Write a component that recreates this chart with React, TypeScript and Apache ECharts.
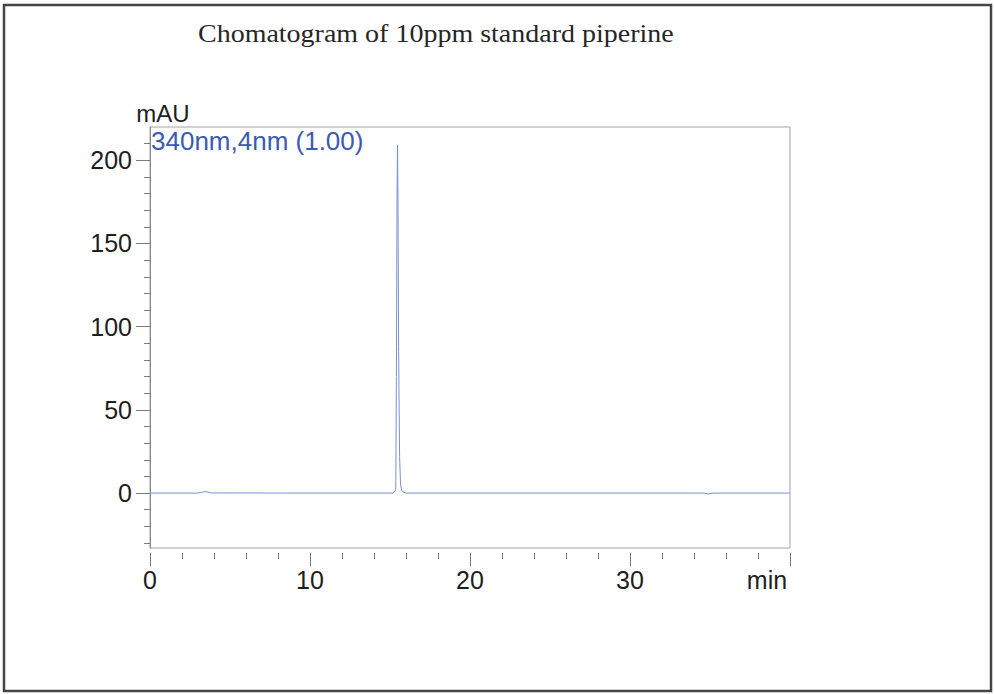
import { useEffect, useRef } from "react";
import * as echarts from "echarts";

const TITLE = "Chomatogram of 10ppm standard piperine";
const SERIES_NAME = "340nm,4nm (1.00)";
const Y_UNIT = "mAU";
const X_UNIT = "min";

const X_MIN = 0;
const X_MAX = 40;
const Y_MIN = -33;
const Y_MAX = 220;

// retention time (min) and absorbance (mAU)
const timeMin = [0, 3.0, 3.3, 3.5, 3.8, 10.0, 15.2, 15.36, 15.4, 15.44, 15.47, 15.5, 15.54, 15.6, 15.66, 15.75, 16.0, 34.6, 34.9, 35.2, 40.0];
const absorbance = [0, 0, 0.6, 0.9, 0.1, 0, 0, 2, 70, 180, 209, 175, 85, 22, 5, 1, 0, 0, -0.5, 0, 0];

const yMajorTicks = [0, 50, 100, 150, 200];
const yMinorTicks = [-30, -20, -10, 0, 10, 20, 30, 40, 50, 60, 70, 80, 90, 100, 110, 120, 130, 140, 150, 160, 170, 180, 190, 200, 210];
const xMajorTicks = [0, 10, 20, 30, 40];
const xMinorTicks = [0, 2, 4, 6, 8, 10, 12, 14, 16, 18, 20, 22, 24, 26, 28, 30, 32, 34, 36, 38, 40];

const SANS = "'Liberation Sans', Arial, sans-serif";
const SERIF = "'Liberation Serif', 'Times New Roman', serif";
const TICK_COLOR = "#7a7a7a";
const LABEL_COLOR = "#1e1e1e";

export default function App() {
  const ref = useRef<HTMLDivElement>(null);
  useEffect(() => {
    if (!ref.current) return;
    const chart = echarts.init(ref.current, undefined, { renderer: "svg" });
    const labelBase = { color: LABEL_COLOR, fontSize: 25, fontFamily: SANS };
    chart.setOption({
      animation: false,
      backgroundColor: "#ffffff",
      graphic: [
        {
          type: "rect",
          silent: true,
          shape: { x: 4, y: 5, width: 987, height: 686 },
          style: { fill: "none", stroke: "#454545", lineWidth: 2.5 },
        },
        {
          type: "text",
          silent: true,
          x: 198,
          y: 34,
          scaleX: 1.12,
          style: {
            text: TITLE,
            fontSize: 25,
            fontFamily: SERIF,
            fill: "#262626",
            align: "left",
            verticalAlign: "middle",
            textAlign: "left",
            textVerticalAlign: "middle",
          },
        },
      ],
      legend: {
        show: true,
        data: [{ name: SERIES_NAME, icon: "none" }],
        left: 146,
        top: 128,
        padding: 0,
        itemWidth: 0,
        itemHeight: 26,
        itemGap: 0,
        selectedMode: false,
        textStyle: { color: "#3a5bb2", fontSize: 26, fontFamily: SANS },
      },
      grid: {
        left: 150,
        top: 127,
        right: 204,
        bottom: 146,
        show: true,
        borderColor: "#a2a2a2",
        borderWidth: 1,
        backgroundColor: "transparent",
      },
      xAxis: [
        {
          type: "value",
          position: "bottom",
          min: X_MIN,
          max: X_MAX,
          offset: 5,
          axisLine: { show: false, onZero: false },
          axisTick: { show: true, customValues: xMajorTicks, length: 13, lineStyle: { color: TICK_COLOR } },
          axisLabel: {
            ...labelBase,
            customValues: xMajorTicks,
            margin: 14,
            formatter: (v: number) => (v === X_MAX ? `{u|${X_UNIT}}` : String(v)),
            rich: { u: { fontSize: 25, fontFamily: SANS, color: LABEL_COLOR, padding: [0, 46, 0, 0] } },
          },
          splitLine: { show: false },
        },
        {
          type: "value",
          position: "bottom",
          min: X_MIN,
          max: X_MAX,
          offset: 5,
          axisLine: { show: false, onZero: false },
          axisTick: { show: true, customValues: xMinorTicks, length: 6, lineStyle: { color: TICK_COLOR } },
          axisLabel: { show: false },
          splitLine: { show: false },
        },
      ],
      yAxis: [
        {
          type: "value",
          position: "left",
          min: Y_MIN,
          max: Y_MAX,
          name: Y_UNIT,
          nameLocation: "end",
          nameGap: 2,
          nameTextStyle: { color: LABEL_COLOR, fontSize: 24, fontFamily: SANS, padding: [0, 0, 0, 26] },
          axisLine: { show: true, onZero: false, lineStyle: { color: "#8a8a8a" } },
          axisTick: { show: true, customValues: yMajorTicks, length: 14, lineStyle: { color: TICK_COLOR } },
          axisLabel: { ...labelBase, customValues: yMajorTicks, margin: 18 },
          splitLine: { show: false },
        },
        {
          type: "value",
          position: "left",
          min: Y_MIN,
          max: Y_MAX,
          axisLine: { show: false, onZero: false },
          axisTick: { show: true, customValues: yMinorTicks, length: 6, lineStyle: { color: TICK_COLOR } },
          axisLabel: { show: false },
          splitLine: { show: false },
        },
      ],
      series: [
        {
          name: SERIES_NAME,
          type: "line",
          xAxisIndex: 0,
          yAxisIndex: 0,
          data: timeMin.map((t, i) => [t, absorbance[i]]),
          showSymbol: false,
          symbol: "none",
          color: "#7892d2",
          lineStyle: { color: "#7892d2", width: 1 },
        },
      ],
    });
    return () => chart.dispose();
  }, []);
  return (
    <div
      ref={ref}
      style={{ position: "fixed", left: 0, top: 0, width: 994, height: 694, background: "#ffffff" }}
    />
  );
}
